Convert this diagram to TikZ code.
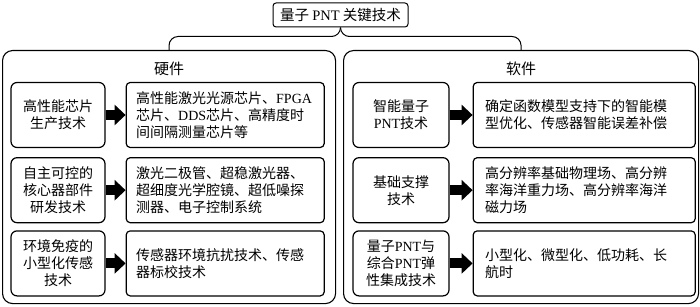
\documentclass[tikz,border=0pt]{standalone}
\usepackage{fontspec}
\setmainfont{Liberation Serif}
\newfontfamily\cjk{Noto Sans CJK SC}
\usetikzlibrary{arrows.meta,positioning}
\newcommand\lat[1]{{\rmfamily #1}}

\begin{document}
\begin{tikzpicture}[
  x=1pt, y=-1pt,
  node distance=20pt,
  group/.style={draw, line width=1.1pt, rounded corners=10pt, minimum height=253pt,
                anchor=north west, inner sep=0pt},
  heading/.style={font=\cjk\fontsize{15}{17}\selectfont},
  techbox/.style={draw, line width=1.2pt, rounded corners=6pt, font=\cjk\fontsize{14}{17}\selectfont,
                  align=center, minimum height=65pt, inner sep=0pt},
  itembox/.style={draw, line width=1.2pt, rounded corners=4pt, font=\cjk\fontsize{14}{17}\selectfont,
                  align=left, minimum height=65pt, inner ysep=0pt},
  push/.style={line width=10pt, -{Triangle[length=11pt,width=20pt]}},
]
  \useasboundingbox (0,0) rectangle (700,307);

  \node[draw, line width=1pt, rounded corners=3pt, minimum width=135pt, minimum height=24pt,
        font=\cjk\fontsize{14.5}{17}\selectfont] (title) at (340.5,15) {量子 \lat{PNT} 关键技术};

  % two groups
  \node[group, minimum width=333pt] (hw) at (2,50) {};
  \node[group, minimum width=355pt] (sw) at (343,50) {};
  \node[heading, yshift=-19pt] (hwhead) at (hw.north) {硬件};
  \node[heading, yshift=-19pt] (swhead) at (sw.north) {软件};

  % brace from title to both groups
  \coordinate[below=9pt of title.south] (fork);
  \draw[line width=1pt, rounded corners=9pt] (hw.north) |- (fork) -- (title.south);
  \draw[line width=1pt, rounded corners=9pt] (title.south) -- (fork) -| (sw.north);

  % hardware
  \node[techbox, minimum width=94pt] (chip) at (58,115) {高性能芯片\\生产技术};
  \node[itembox, inner xsep=10pt, text width=178pt, right=20pt of chip] (chipd)
    {高性能激光光源芯片、\lat{FPGA}\\芯片、\lat{DDS}芯片、高精度时\\间间隔测量芯片等};
  \node[techbox, minimum width=94pt, below=9pt of chip] (core) {自主可控的\\核心器部件\\研发技术};
  \node[itembox, inner xsep=10pt, text width=178pt, right=20pt of core] (cored)
    {激光二极管、超稳激光器、\\超细度光学腔镜、超低噪探\\测器、电子控制系统};
  \node[techbox, minimum width=94pt, below=7pt of core] (sens) {环境免疫的\\小型化传感\\技术};
  \node[itembox, inner xsep=10pt, text width=178pt, right=20pt of sens] (sensd)
    {传感器环境抗扰技术、传感\\器标校技术};

  % software
  \node[techbox, minimum width=96pt] (smart) at (401,115) {智能量子\\\lat{PNT}技术};
  \node[itembox, inner xsep=12pt, text width=198pt, right=23pt of smart] (smartd)
    {确定函数模型支持下的智能模\\型优化、传感器智能误差补偿};
  \node[techbox, minimum width=96pt, below=9pt of smart] (base) {基础支撑\\技术};
  \node[itembox, inner xsep=12pt, text width=198pt, right=23pt of base] (based)
    {高分辨率基础物理场、高分辨\\率海洋重力场、高分辨率海洋\\磁力场};
  \node[techbox, minimum width=96pt, below=7pt of base] (fuse) {量子\lat{PNT}与\\综合\lat{PNT}弹\\性集成技术};
  \node[itembox, inner xsep=12pt, text width=198pt, right=23pt of fuse] (fused)
    {小型化、微型化、低功耗、长\\航时};

  \foreach \a/\b in {chip/chipd, core/cored, sens/sensd, smart/smartd, base/based, fuse/fused}
    \draw[push] (\a.east) -- (\b.west);
\end{tikzpicture}
\end{document}
